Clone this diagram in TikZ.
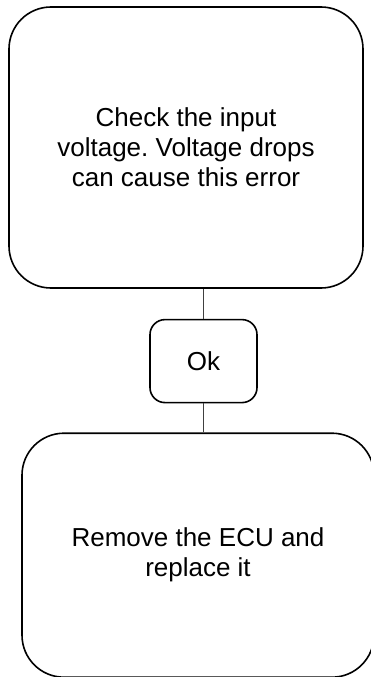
\documentclass[tikz,border=0pt]{standalone}
\usepackage{fontspec}
\setmainfont{Liberation Sans}
\usetikzlibrary{positioning}
\frenchspacing
\tikzset{
  stepnode/.style={draw,line width=1.6pt,rounded corners=42pt,align=center,
    font=\fontsize{26}{30}\selectfont,inner sep=0pt},
  answer/.style={draw,line width=1.6pt,rounded corners=15pt,
    font=\fontsize{26}{30}\selectfont,minimum width=107pt,minimum height=83pt},
  link/.style={draw=black!75,line width=1pt}
}

\begin{document}
\begin{tikzpicture}[node distance=30pt]
    \useasboundingbox (0pt,0pt) rectangle (371pt,-677pt);
    \node [stepnode,minimum width=354pt,minimum height=281pt] (check) at (186pt,-147.5pt)
        {Check the input\\voltage. Voltage drops\\can cause this error};
    \node [answer,below=30pt of check,xshift=17.5pt] (ok) {Ok};
    \node [stepnode,minimum width=352pt,minimum height=244pt,
        below=29pt of ok,xshift=-5.5pt] (ecu)
        {Remove the ECU and\\replace it};
    \path [link] (ok) -- (ok |- check.south)
                 (ok) -- (ok |- ecu.north)
    ;
\end{tikzpicture}
\end{document}
